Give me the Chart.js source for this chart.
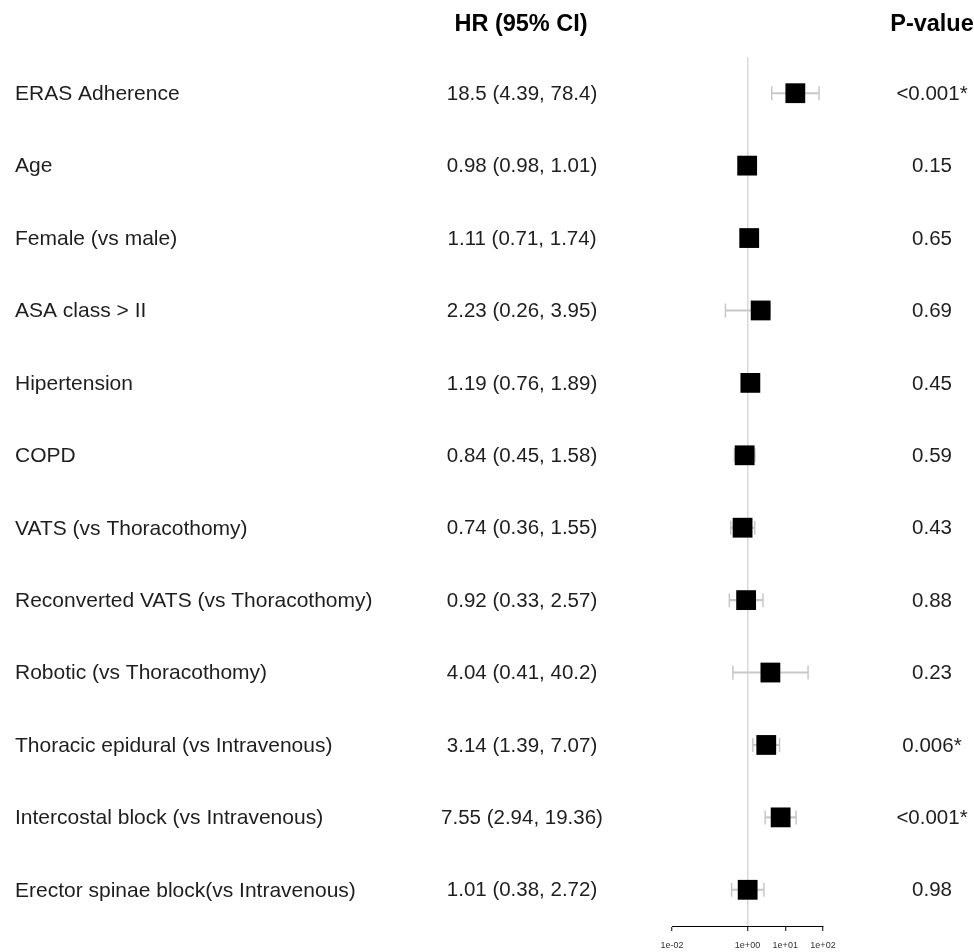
<!DOCTYPE html>
<html>
<head>
<meta charset="utf-8">
<script src="https://cdn.jsdelivr.net/npm/chart.js@4.4.1/dist/chart.umd.min.js"></script>
<style>
  html, body { margin: 0; padding: 0; background: #fff; }
  #wrap { width: 974px; height: 952px; position: relative; }
</style>
</head>
<body>
<div id="wrap"><canvas id="forest"></canvas></div>
<script>
// -----------------------
// Data
// -----------------------
const LABELS = [
  "ERAS Adherence",
  "Age",
  "Female (vs male)",
  "ASA class > II",
  "Hipertension",
  "COPD",
  "VATS (vs Thoracothomy)",
  "Reconverted VATS (vs Thoracothomy)",
  "Robotic (vs Thoracothomy)",
  "Thoracic epidural (vs Intravenous)",
  "Intercostal block (vs Intravenous)",
  "Erector spinae block(vs Intravenous)"
];
const HR = [18.5, 0.98, 1.11, 2.23, 1.19, 0.84, 0.74, 0.92, 4.04, 3.14, 7.55, 1.01];
const CI_LOW = [4.39, 0.98, 0.71, 0.26, 0.76, 0.45, 0.36, 0.33, 0.41, 1.39, 2.94, 0.38];
const CI_HIGH = [78.4, 1.01, 1.74, 3.95, 1.89, 1.58, 1.55, 2.57, 40.2, 7.07, 19.36, 2.72];
const P_VALUES = ["<0.001*", "0.15", "0.65", "0.69", "0.45", "0.59", "0.43", "0.88", "0.23", "0.006*", "<0.001*", "0.98"];
const TICK_VALUES = [0.01, 1, 10, 100];

const FONT = '"Liberation Sans", Arial, Helvetica, sans-serif';
const WHISKER = "#c8c8c8";

// -----------------------
// Text columns (label, HR (95% CI), P-value)
// -----------------------
const columnsPlugin = {
  id: "columns",
  afterDraw(chart) {
    const ctx = chart.ctx;
    const y = chart.scales.y;
    ctx.save();
    ctx.textBaseline = "middle";
    ctx.fillStyle = "#000";
    ctx.font = `bold 23.5px ${FONT}`;
    ctx.textAlign = "center";
    ctx.fillText("HR (95% CI)", 521, 25);
    ctx.fillText("P-value", 932, 25);

    ctx.fillStyle = "#1e1e1e";
    LABELS.forEach((lab, i) => {
      const py = y.getPixelForValue(i) + 1;
      ctx.textAlign = "left";
      ctx.font = `21px ${FONT}`;
      ctx.fillText(lab, 15, py);
      ctx.textAlign = "center";
      ctx.font = `20.5px ${FONT}`;
      ctx.fillText(`${HR[i]} (${CI_LOW[i]}, ${CI_HIGH[i]})`, 522, py);
      ctx.fillText(P_VALUES[i], 932, py);
    });
    ctx.restore();
  }
};

function sciLabel(v) {
  const e = Math.round(Math.log10(v));
  return "1e" + (e < 0 ? "-" : "+") + String(Math.abs(e)).padStart(2, "0");
}

// -----------------------
// Chart
// -----------------------
const chart = new Chart(document.getElementById("forest"), {
  type: "bar",
  data: {
    labels: LABELS,
    datasets: [
      {
        type: "scatter",
        data: LABELS.map((lab, i) => ({ x: HR[i], y: lab })),
        pointStyle: "rect",
        pointRadius: 14,
        backgroundColor: "#000",
        borderWidth: 0,
        order: 0
      },
      {
        type: "bar",
        data: LABELS.map((lab, i) => [CI_LOW[i], CI_HIGH[i]]),
        backgroundColor: WHISKER,
        borderWidth: 0,
        barThickness: 1.5,
        order: 2
      },
      {
        type: "scatter",
        data: LABELS.flatMap((lab, i) => [{ x: CI_LOW[i], y: lab }, { x: CI_HIGH[i], y: lab }]),
        pointStyle: "line",
        rotation: 90,
        pointRadius: 7,
        borderColor: WHISKER,
        borderWidth: 1.5,
        order: 1
      }
    ]
  },
  options: {
    indexAxis: "y",
    responsive: true,
    maintainAspectRatio: false,
    animation: false,
    events: [],
    layout: { padding: { left: 672, right: 151, top: 57, bottom: 0 } },
    plugins: { legend: { display: false }, tooltip: { enabled: false } },
    scales: {
      x: {
        type: "logarithmic",
        min: 0.01,
        max: 100,
        afterBuildTicks: s => { s.ticks = TICK_VALUES.map(v => ({ value: v })); },
        afterFit: s => { s.height = 26; },
        border: { display: true, color: "#000", width: 1 },
        grid: {
          color: c => (c.tick && c.tick.value === 1 ? "#d9d9d9" : "rgba(0,0,0,0)"),
          lineWidth: 1.5,
          tickColor: "#000",
          tickWidth: 1,
          tickLength: 5
        },
        ticks: {
          callback: v => sciLabel(v),
          font: { family: FONT, size: 9 },
          color: "#333",
          padding: 9,
          maxRotation: 0,
          autoSkip: false
        }
      },
      y: {
        type: "category",
        labels: LABELS,
        offset: true,
        display: false
      }
    }
  },
  plugins: [columnsPlugin]
});
</script>
</body>
</html>
